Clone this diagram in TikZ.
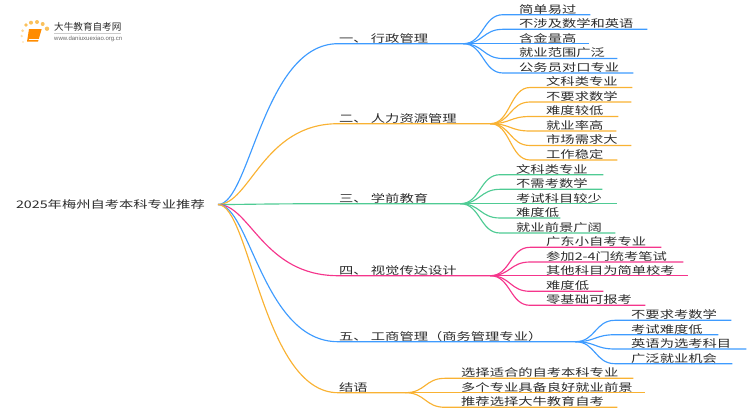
\documentclass[tikz,border=0pt]{standalone}
\usepackage{fontspec}
\setmainfont{Liberation Sans}
\newfontfamily\cjk[FakeStretch=1.36]{Noto Sans CJK SC}
\newfontfamily\cjklogo{Noto Sans CJK SC}
\definecolor{cblue}{HTML}{3E9BFF}
\definecolor{corange}{HTML}{F9B233}
\definecolor{cgreen}{HTML}{4FCB94}
\definecolor{cpink}{HTML}{F5358C}
\definecolor{ctext}{HTML}{2B2B2B}
\tikzset{
  lbl/.style={inner sep=0pt,anchor=south west,text=ctext,font=\cjk\fontsize{10.5pt}{12pt}\selectfont,text height=9.5pt,text depth=1.5pt},
  wire/.style={line width=1.15pt},
}
% #1 name, #2 parent, #3 colour, #4 x start, #5 x end, #6 y, #7 text
\newcommand\leafnode[7]{%
  \pgfmathsetlengthmacro\mywidth{(#5-#4)*1pt}%
  \node[lbl] (#1) at (#4,#6) {\makebox[\mywidth][l]{\hspace{16pt}#7}};
  \draw[wire,#3] (#2.south east) .. controls +(20,0) and +(-20,0) .. (#1.south west) -- (#1.south east);
}
% #1 name, #2 colour, #3 x end, #4 y, #5 text
\newcommand\branchnode[5]{%
  \pgfmathsetlengthmacro\mywidth{(#3-338)*1pt}%
  \node[lbl] (#1) at (338,#4) {\makebox[\mywidth][l]{\hspace{1pt}#5}};
  \draw[wire,#2] (root.east) .. controls +(32,0) and +(-75,0) .. (#1.south west) -- (#1.south east);
}
\begin{document}
\begin{tikzpicture}[x=1pt,y=-1pt]
\useasboundingbox (0,0) rectangle (750,410);
% logo
\foreach \px/\py/\pr/\po in {26/25/1.8/.8,31/22.7/2/.8,37/22/2/.8,42.7/24/2/.8,47/28.7/2.2/.8,22.7/30.7/1.5/.5,21.7/36/1.3/.4,23/42/1.2/.3}
  \fill[corange,opacity=\po] (\px,\py) circle (\pr);
\fill[orange!90!yellow] (29,29) -- (41.7,29) -- (38,41.7) -- (27,41.7) -- cycle;
\draw[white,line width=.6pt] (28.5,39.5) -- (38.5,39.5);
\node[inner sep=0pt,anchor=west,text=ctext,font=\cjklogo\fontsize{9.6pt}{10pt}\selectfont] (logot) at (54,27) {大牛教育自考网};
\draw[black!20,line width=.5pt] (54,33.3) -- (121,33.3);
\node[inner sep=0pt,anchor=west,text=black!60,font=\fontsize{6pt}{7pt}\selectfont] (logou) at (54,38.7) {www.daniuxuexiao.org.cn};
% root
\node[inner sep=0pt,anchor=east,text=ctext,font=\cjk\fontsize{10.5pt}{12pt}\selectfont,text height=9.9pt,text depth=1.5pt] (root) at (218,204.5) {2025年梅州自考本科专业推荐\hspace*{13pt}};
% branches
\branchnode{a}{cblue}{463}{43.7}{一、 行政管理}
\branchnode{b}{corange}{490}{123.7}{二、 人力资源管理}
\branchnode{c}{cgreen}{460}{203.7}{三、 学前教育}
\branchnode{d}{cpink}{490}{275.7}{四、 视觉传达设计}
\branchnode{e}{cblue}{575}{341.7}{五、 工商管理（商务管理专业）}
\branchnode{f}{corange}{405}{392.7}{结语}
% leaves
\leafnode{a1}{a}{cblue}{503}{590}{14.7}{简单易过}
\leafnode{a2}{a}{cblue}{503}{647}{29.3}{不涉及数学和英语}
\leafnode{a3}{a}{cblue}{503}{589}{43.7}{含金量高}
\leafnode{a4}{a}{cblue}{503}{617}{58.5}{就业范围广泛}
\leafnode{a5}{a}{cblue}{503}{633}{73}{公务员对口专业}
\leafnode{b1}{b}{corange}{530}{632}{87.5}{文科类专业}
\leafnode{b2}{b}{corange}{530}{631}{102}{不要求数学}
\leafnode{b3}{b}{corange}{530}{618}{116.5}{难度较低}
\leafnode{b4}{b}{corange}{530}{616}{131}{就业率高}
\leafnode{b5}{b}{corange}{530}{631}{145.5}{市场需求大}
\leafnode{b6}{b}{corange}{530}{617}{160}{工作稳定}
\leafnode{c1}{c}{cgreen}{500}{603}{174.7}{文科类专业}
\leafnode{c2}{c}{cgreen}{500}{602}{189.3}{不需考数学}
\leafnode{c3}{c}{cgreen}{500}{617}{203.7}{考试科目较少}
\leafnode{c4}{c}{cgreen}{500}{560}{218}{难度低}
\leafnode{c5}{c}{cgreen}{500}{615}{233}{就业前景广阔}
\leafnode{d1}{d}{cpink}{530}{661}{247.3}{广东小自考专业}
\leafnode{d2}{d}{cpink}{530}{683}{262}{参加2-4门统考笔试}
\leafnode{d3}{d}{cpink}{530}{688}{275.7}{其他科目为简单校考}
\leafnode{d4}{d}{cpink}{530}{603}{291.3}{难度低}
\leafnode{d5}{d}{cpink}{530}{645}{305.3}{零基础可报考}
\leafnode{e1}{e}{cblue}{615}{731}{320.3}{不要求考数学}
\leafnode{e2}{e}{cblue}{615}{718}{334.7}{考试难度低}
\leafnode{e3}{e}{cblue}{615}{746}{349}{英语为选考科目}
\leafnode{e4}{e}{cblue}{615}{732}{363.7}{广泛就业机会}
\leafnode{f1}{f}{corange}{445}{633}{378.3}{选择适合的自考本科专业}
\leafnode{f2}{f}{corange}{445}{645}{392.7}{多个专业具备良好就业前景}
\leafnode{f3}{f}{corange}{445}{617}{407.3}{推荐选择大牛教育自考}
\end{tikzpicture}
\end{document}
